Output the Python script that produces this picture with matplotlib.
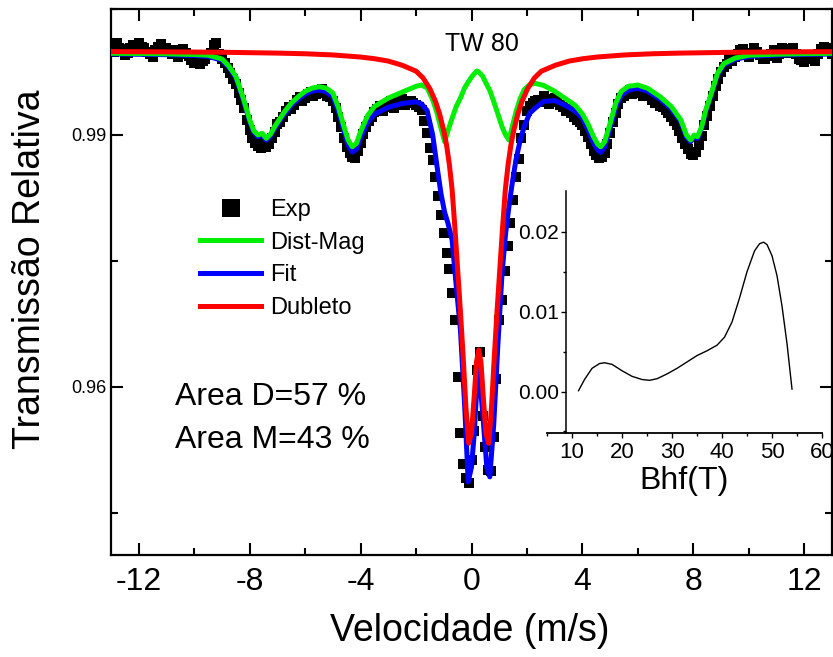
import numpy as np
import matplotlib
matplotlib.use("Agg")
import matplotlib.pyplot as plt
from matplotlib.ticker import MultipleLocator, FixedLocator, FixedFormatter
from matplotlib.lines import Line2D

plt.rcParams['font.family'] = ['Liberation Sans', 'DejaVu Sans']
plt.rcParams['axes.unicode_minus'] = False

# ---- Mossbauer spectrum, sample TW 80 ----
# experimental transmission, three channel blocks (start velocity, step)
exp_left = [1.0006, 0.9999, 1.0010, 1.0004, 1.0002, 0.9995, 0.9998, 1.0003, 1.0007, 1.0001,
            1.0009, 1.0005, 1.0003, 0.9999, 0.9996, 0.9993, 1.0001, 1.0005, 1.0008, 1.0002,
            1.0004, 0.9999, 0.9996, 1.0001, 0.9993, 0.9997, 1.0002, 0.9998, 0.9994, 0.9989,
            0.9986, 0.9991, 0.9984, 0.9988, 0.9990, 0.9995, 0.9998, 1.0007, 1.0010, 0.9996,
            0.9991, 0.9986, 0.9980, 0.9974, 0.9967, 0.9961, 0.9950, 0.9942, 0.9932, 0.9918,
            0.9906, 0.9896, 0.9891, 0.9887, 0.9884, 0.9890, 0.9886, 0.9889, 0.9897, 0.9904,
            0.9913, 0.9916, 0.9922, 0.9929, 0.9933, 0.9931, 0.9936, 0.9942, 0.9945, 0.9941,
            0.9944, 0.9949, 0.9951, 0.9947, 0.9949, 0.9953, 0.9955, 0.9950, 0.9947, 0.9945,
            0.9940, 0.9932, 0.9921, 0.9909, 0.9897, 0.9886, 0.9879, 0.9874, 0.9873, 0.9881,
            0.9890, 0.9901, 0.9910, 0.9917, 0.9922, 0.9927, 0.9931, 0.9934, 0.9929, 0.9933,
            0.9937, 0.9940, 0.9932, 0.9936, 0.9940, 0.9943, 0.9936, 0.9939, 0.9941, 0.9938,
            0.9936, 0.9933, 0.9930, 0.9917]
exp_mid = [0.9902, 0.9884, 0.9870, 0.9850, 0.9827, 0.9805, 0.9783, 0.9760, 0.9740, 0.9712,
           0.9680, 0.9612, 0.9545, 0.9508, 0.9492, 0.9486, 0.9513, 0.9548, 0.9620, 0.9642,
           0.9565, 0.9529, 0.9501, 0.9500, 0.9541, 0.9610, 0.9680, 0.9704, 0.9738, 0.9768,
           0.9795, 0.9823, 0.9850, 0.9872, 0.9897, 0.9912, 0.9928, 0.9935]
exp_right = [0.9938, 0.9941, 0.9942, 0.9939, 0.9946, 0.9943, 0.9937, 0.9941, 0.9944, 0.9939,
             0.9936, 0.9933, 0.9929, 0.9931, 0.9926, 0.9922, 0.9918, 0.9916, 0.9912, 0.9905,
             0.9898, 0.9889, 0.9881, 0.9876, 0.9873, 0.9874, 0.9879, 0.9889, 0.9902, 0.9915,
             0.9926, 0.9937, 0.9944, 0.9946, 0.9950, 0.9953, 0.9949, 0.9952, 0.9954, 0.9950,
             0.9946, 0.9950, 0.9947, 0.9942, 0.9938, 0.9940, 0.9935, 0.9933, 0.9930, 0.9926,
             0.9921, 0.9917, 0.9912, 0.9905, 0.9897, 0.9889, 0.9883, 0.9877, 0.9876, 0.9880,
             0.9888, 0.9899, 0.9912, 0.9923, 0.9935, 0.9947, 0.9958, 0.9967, 0.9975, 0.9981,
             0.9985, 0.9991, 0.9988, 0.9993, 0.9997, 1.0001, 1.0002, 0.9996, 0.9993, 0.9998,
             1.0003, 0.9999, 0.9995, 0.9991, 0.9990, 0.9994, 0.9997, 1.0001, 0.9992, 0.9997,
             1.0003, 1.0000, 0.9998, 1.0002, 1.0004, 0.9996, 0.9991, 0.9989, 0.9987, 0.9992,
             0.9995, 0.9991, 0.9988, 0.9996, 1.0002, 1.0005, 1.0004, 1.0000, 0.9996]
exp_blocks = [(-13.0, 0.1, exp_left), (-1.6, 0.1, exp_mid), (2.2, 0.1, exp_right)]

# fitted components
vel_fit = [-13.0, -12.0, -11.0, -10.0, -9.5, -9.0, -8.75, -8.5, -8.25, -8.0,
           -7.85, -7.7, -7.55, -7.4, -7.25, -7.1, -6.75, -6.5, -6.25, -6.0,
           -5.75, -5.5, -5.25, -5.0, -4.8, -4.6, -4.45, -4.3, -4.15, -4.0,
           -3.75, -3.5, -3.0, -2.5, -2.0, -1.8, -1.6, -1.4, -1.25, -1.1,
           -0.97, -0.85, -0.7, -0.55, -0.4, -0.25, -0.12, 0.0, 0.1, 0.19,
           0.26, 0.4, 0.55, 0.66, 0.8, 0.95, 1.1, 1.23, 1.35, 1.47,
           1.6, 1.75, 1.9, 2.1, 2.3, 2.6, 3.0, 3.4, 3.75, 4.0,
           4.2, 4.4, 4.55, 4.66, 4.8, 5.0, 5.2, 5.4, 5.65, 6.0,
           6.35, 6.8, 7.2, 7.55, 7.75, 7.9, 8.03, 8.15, 8.3, 8.45,
           8.65, 8.87, 9.1, 9.5, 10.0, 11.0, 12.0, 13.0]
dist_mag = [0.99972, 0.99970, 0.99966, 0.99958, 0.99950, 0.99905, 0.99820, 0.99700, 0.99460, 0.99180,
            0.99050, 0.99000, 0.99020, 0.98960, 0.99010, 0.99100, 0.99275, 0.99380, 0.99456, 0.99520,
            0.99558, 0.99575, 0.99560, 0.99500, 0.99330, 0.99100, 0.98940, 0.98860, 0.98900, 0.99040,
            0.99230, 0.99340, 0.99440, 0.99510, 0.99580, 0.99595, 0.99560, 0.99420, 0.99270, 0.99080,
            0.98920, 0.99050, 0.99200, 0.99340, 0.99440, 0.99560, 0.99630, 0.99690, 0.99730, 0.99762,
            0.99750, 0.99700, 0.99600, 0.99530, 0.99400, 0.99250, 0.99100, 0.99000, 0.98940, 0.99100,
            0.99270, 0.99430, 0.99540, 0.99600, 0.99615, 0.99590, 0.99520, 0.99430, 0.99350, 0.99250,
            0.99130, 0.98980, 0.98890, 0.98860, 0.98920, 0.99140, 0.99380, 0.99520, 0.99580, 0.99595,
            0.99556, 0.99456, 0.99340, 0.99180, 0.99000, 0.98940, 0.99000, 0.98980, 0.99100, 0.99300,
            0.99500, 0.99735, 0.99850, 0.99915, 0.99950, 0.99962, 0.99968, 0.99972]
fit = [0.99965, 0.99961, 0.99956, 0.99946, 0.99936, 0.99890, 0.99804, 0.99683, 0.99442, 0.99161,
       0.99030, 0.98980, 0.98999, 0.98938, 0.98987, 0.99076, 0.99249, 0.99352, 0.99425, 0.99487,
       0.99522, 0.99536, 0.99517, 0.99453, 0.99279, 0.99045, 0.98881, 0.98797, 0.98833, 0.98968,
       0.99149, 0.99248, 0.99330, 0.99375, 0.99395, 0.99370, 0.99290, 0.99000, 0.98640, 0.98300,
       0.98080, 0.97950, 0.97750, 0.97200, 0.96680, 0.95800, 0.94870, 0.95050, 0.95450, 0.95980,
       0.96240, 0.95700, 0.95050, 0.94930, 0.95550, 0.96500, 0.97350, 0.97830, 0.98150, 0.98430,
       0.98700, 0.98930, 0.99100, 0.99260, 0.99320, 0.99400, 0.99410, 0.99350, 0.99280, 0.99200,
       0.99060, 0.98904, 0.98819, 0.98793, 0.98857, 0.99082, 0.99327, 0.99471, 0.99535, 0.99556,
       0.99521, 0.99426, 0.99313, 0.99156, 0.98977, 0.98918, 0.98979, 0.98959, 0.99080, 0.99281,
       0.99482, 0.99717, 0.99833, 0.99900, 0.99936, 0.99951, 0.99959, 0.99964]

vel_dub = [-13, -11, -9, -7, -6, -5, -4, -3.5, -3, -2.5,
           -2.0, -1.75, -1.5, -1.3, -1.15, -1.0, -0.9, -0.8, -0.7, -0.6,
           -0.5, -0.4, -0.3, -0.2, -0.1, 0.0, 0.1, 0.18, 0.26, 0.34,
           0.42, 0.52, 0.62, 0.72, 0.82, 0.92, 1.02, 1.12, 1.22, 1.32,
           1.42, 1.52, 1.67, 1.82, 2.02, 2.27, 2.52, 3.02, 3.52, 4.02,
           4.52, 5.52, 6.52, 7.52, 9.52, 11.52, 13]
dubleto = [0.99993, 0.9999, 0.99985, 0.99975, 0.99967, 0.99953, 0.99928, 0.99908, 0.9988, 0.9983,
           0.9976, 0.9968, 0.9955, 0.9940, 0.9925, 0.9905, 0.9888, 0.9865, 0.9835, 0.9790,
           0.9740, 0.9690, 0.9635, 0.9575, 0.9533, 0.9545, 0.9590, 0.9630, 0.9644, 0.9630,
           0.9590, 0.9545, 0.9533, 0.9575, 0.9635, 0.9690, 0.9740, 0.9790, 0.9835, 0.9865,
           0.9888, 0.9905, 0.9925, 0.9940, 0.9955, 0.9968, 0.9976, 0.9983, 0.9988, 0.99908,
           0.99928, 0.99953, 0.99967, 0.99975, 0.99985, 0.9999, 0.99992]

# hyperfine field distribution (inset)
bhf = [11.3, 12.5, 14.0, 15.5, 16.5, 18.0, 20.0, 22.0, 24.0, 25.5,
       27.0, 29.0, 31.0, 33.0, 35.0, 37.0, 39.0, 40.5, 42.0, 43.5,
       45.0, 46.5, 47.5, 48.3, 49.0, 50.0, 51.0, 52.0, 53.0, 54.0]
prob = [0.0001, 0.0015, 0.0029, 0.0035, 0.0036, 0.0034, 0.0026, 0.0019, 0.0015, 0.0014,
        0.0016, 0.0022, 0.0029, 0.0037, 0.0045, 0.0051, 0.0058, 0.0068, 0.0087, 0.0117,
        0.0150, 0.0176, 0.0185, 0.0187, 0.0184, 0.0170, 0.0145, 0.0107, 0.0060, 0.0003]

legend_labels = ['Exp', 'Dist-Mag', 'Fit', 'Dubleto']
x_ticks = [-12, -8, -4, 0, 4, 8, 12]
y_ticks = [0.96, 0.99]
y_tick_labels = ['0.96', '0.99']

# channel velocities of the experimental blocks
exp_vel = np.concatenate([start + step * np.arange(len(vals)) for start, step, vals in exp_blocks])
exp_trans = np.concatenate([vals for _, _, vals in exp_blocks])

GREEN, BLUE, RED = '#00ee00', '#0000ff', '#ff0000'

fig = plt.figure(figsize=(8.33, 6.57), dpi=100)
ax = fig.add_axes([0.1333, 0.1553, 0.8655, 0.8310])

ax.plot(exp_vel, exp_trans, ls='none', marker='s', ms=7.2, mew=0, color='black', zorder=2)
ax.plot(vel_fit, fit, color=BLUE, lw=3.6, zorder=3, solid_capstyle='round')
ax.plot(vel_fit, dist_mag, color=GREEN, lw=3.6, zorder=4, solid_capstyle='round')
ax.plot(vel_dub, dubleto, color=RED, lw=3.6, zorder=5, solid_capstyle='round')

ax.set_xlim(-13, 13)
ax.set_ylim(0.94, 1.005)
ax.xaxis.set_major_locator(FixedLocator(x_ticks))
ax.xaxis.set_minor_locator(MultipleLocator(2))
ax.yaxis.set_major_locator(FixedLocator(y_ticks))
ax.yaxis.set_major_formatter(FixedFormatter(y_tick_labels))
ax.yaxis.set_minor_locator(FixedLocator([0.945, 0.975, 1.005]))

for sp in ax.spines.values():
    sp.set_linewidth(1.6)
ax.tick_params(which='both', direction='in', top=True, right=True, width=1.5)
ax.tick_params(which='major', length=8.5)
ax.tick_params(which='minor', length=5)
ax.tick_params(axis='x', labelsize=23, pad=9)
ax.tick_params(axis='y', labelsize=13, pad=3)

ax.set_xlabel('Velocidade (m/s)', fontsize=27)
ax.xaxis.set_label_coords(0.498, -0.107)
ax.set_ylabel('Transmissão Relativa', fontsize=27)
ax.yaxis.set_label_coords(-0.087, 0.524)

ax.text(0.5146, 0.936, 'TW 80', transform=ax.transAxes, fontsize=18,
        ha='center', va='center')
ax.text(0.0888, 0.2747, 'Area D=57 %', transform=ax.transAxes, fontsize=23,
        ha='left', va='baseline')
ax.text(0.0888, 0.196, 'Area M=43 %', transform=ax.transAxes, fontsize=23,
        ha='left', va='baseline')

handles = [Line2D([], [], ls='none', marker='s', ms=7.2, mew=0, color='black'),
           Line2D([], [], color=GREEN, lw=3.6),
           Line2D([], [], color=BLUE, lw=3.6),
           Line2D([], [], color=RED, lw=3.6)]
ax.legend(handles, legend_labels, loc='upper left', bbox_to_anchor=(0.1234, 0.652),
          frameon=False, fontsize=17, handlelength=2.6, handletextpad=0.35,
          labelspacing=0.45, markerscale=1.8, borderpad=0, borderaxespad=0)

# inset: hyperfine field distribution
ins = fig.add_axes([0.6567, 0.3409, 0.3301, 0.3683], facecolor='none')
ins.plot(bhf, prob, color='black', lw=1.0)
ins.set_xlim(5, 60)
ins.set_ylim(-0.0052, 0.0251)
ins.spines['top'].set_visible(False)
ins.spines['right'].set_visible(False)
ins.spines['left'].set_position(('data', 8.8))
ins.spines['left'].set_linewidth(1.1)
ins.spines['bottom'].set_linewidth(1.3)
ins.xaxis.set_major_locator(MultipleLocator(10))
ins.xaxis.set_minor_locator(MultipleLocator(5))
ins.yaxis.set_major_locator(FixedLocator([0.0, 0.01, 0.02]))
ins.yaxis.set_major_formatter(FixedFormatter(['0.00', '0.01', '0.02']))
ins.yaxis.set_minor_locator(FixedLocator([-0.005, 0.005, 0.015]))
ins.tick_params(which='both', direction='out', width=1.0)
ins.tick_params(which='major', length=3.5)
ins.tick_params(which='minor', length=2.2)
ins.tick_params(axis='x', labelsize=16, pad=3)
ins.tick_params(axis='y', labelsize=15, pad=1.5)
ins.set_xlabel('Bhf(T)', fontsize=23, labelpad=2)

fig.savefig('out.png', dpi=100)
